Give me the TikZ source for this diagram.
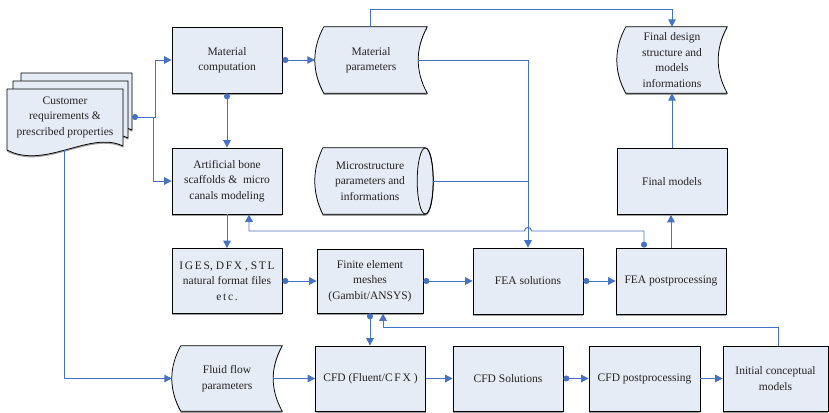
\documentclass[tikz,border=0pt]{standalone}
\usepackage{fontspec}
\setmainfont{Liberation Serif}
\newfontfamily\spaced[LetterSpace=15]{Liberation Serif}
\usetikzlibrary{arrows.meta,calc,backgrounds}
\definecolor{boxfill}{HTML}{E6ECF6}
\definecolor{linkblue}{HTML}{4472C4}
\definecolor{inkgray}{HTML}{222222}

% stored-data outline: convex left side, concave right side
\newcommand\storedbody[1]{%
  \path[shapeedge] ($(#1.north west)+(9,0)$) -- (#1.north east)
    .. controls ($(#1.north east)!0.33!(#1.south east)+(-12,0)$) and ($(#1.north east)!0.67!(#1.south east)+(-12,0)$) .. (#1.south east)
    -- ($(#1.south west)+(9,0)$)
    .. controls ($(#1.south west)!0.33!(#1.north west)+(-3,0)$) and ($(#1.south west)!0.67!(#1.north west)+(-3,0)$) .. cycle;}

% one sheet of the document stack, with its wavy lower edge
\newcommand\sheet[4]{%
  \path[shapeedge] (#1,#3) -- (#2,#3) -- (#2,#4-4)
    .. controls (#2-33,#4-20) and (#1+38,#4+20) .. (#1,#4) -- cycle;}

\begin{document}
\begin{tikzpicture}[x=1pt,y=-1pt,
  txt/.style={font=\fontsize{11.5}{15.5}\selectfont, text=inkgray, align=center},
  shade below/.style={preaction={fill=gray!75, transform canvas={yshift=-1.6pt}}},
  box/.style={txt, draw=black, line width=0.75pt, fill=boxfill, shade below,
              minimum width=110pt, minimum height=66pt, inner sep=1pt},
  slot/.style={txt, minimum width=110pt, minimum height=66pt, inner sep=1pt},
  shapeedge/.style={draw=black, line width=0.75pt, fill=boxfill, shade below},
  flow/.style={draw=linkblue, line width=0.95pt},
  arr/.style={flow, -{Triangle[length=7.5pt,width=7.5pt]}},
  darr/.style={flow, {Circle[length=6pt]}-{Triangle[length=7.5pt,width=7.5pt]}},
]
\useasboundingbox (0,0) rectangle (829,412);

% ---- blocks ----
\node[slot, minimum width=116pt, minimum height=54pt] (cust) at (65,117)
  {Customer\\requirements \&\\prescribed properties};
\node[box] (matc) at (227,60) {Material\\computation};
\node[slot, minimum width=112pt] (matp) at (371,60) {Material\\parameters};
\node[slot] (fin) at (672,60) {Final design\\structure and\\models\\informations};
\node[box] (bone) at (227,181) {Artificial bone\\scaffolds \&\ \ micro\\canals modeling};
\node[slot] (micro) at (370,181) {Microstructure\\parameters and\\informations};
\node[box] (finm) at (672,181.5) {Final models};
\node[box, minimum height=65pt] (iges) at (227,281)
  {{\spaced IGES}, {\spaced DFX} , {\spaced STL}\\natural format files\\{\spaced etc.}};
\node[box, minimum width=106pt, minimum height=64pt] (fem) at (370,281)
  {Finite element\\meshes\\(Gambit/ANSY{\spaced S})};
\node[box] (feas) at (528,281) {FEA solutions};
\node[box] (feap) at (671,281) {FEA postprocessing};
\node[slot, minimum height=65pt] (fluid) at (227,378.5) {Fluid flow\\parameters};
\node[box, minimum height=65pt] (cfd) at (370.5,378.5) {CFD (Fluent/{\spaced CFX} )};
\node[box, minimum height=65pt] (cfds) at (508,378.5) {CFD Solutions};
\node[box, minimum width=111pt, minimum height=65pt] (cfdp) at (644.5,378.5) {CFD postprocessing};
\node[box, minimum width=105pt, minimum height=65pt] (init) at (775.5,378.5) {Initial conceptual\\models};

% ---- outlines of the non-rectangular blocks ----
\begin{scope}[on background layer]
  \sheet{21}{132}{73}{134}
  \sheet{13}{128}{81}{142}
  \sheet{7}{123}{89}{150}
  \storedbody{matp}
  \storedbody{fin}
  \storedbody{fluid}
  \path[shapeedge] ($(micro.north west)+(8,0)$) -- (micro.north east)
    .. controls ($(micro.north east)+(10.7,0)$) and ($(micro.south east)+(10.7,0)$) .. (micro.south east)
    -- ($(micro.south west)+(8,0)$)
    .. controls ($(micro.south west)!0.33!(micro.north west)+(-2.7,0)$) and ($(micro.south west)!0.67!(micro.north west)+(-2.7,0)$) .. cycle;
  \draw[line width=0.75pt] (micro.east) ellipse [x radius=8pt, y radius=33pt];
\end{scope}

% ---- connector end points ----
\coordinate (custR) at (132,117);
\coordinate (custB) at (64,150);
\coordinate (hopR) at (531.5,231);
\coordinate (hopL) at (524.5,231);

% ---- connectors ----
\draw[darr] (custR) -- ++(23,0) |- (matc.west);
\draw[arr] ([xshift=21pt]custR) |- (bone.west);
\draw[arr] (custB) |- (fluid.west);
\draw[darr] (matc.east) -- (matp.west);
\draw[darr] (matc.south) -- (bone.north);
\draw[arr] ([xshift=-1pt]matp.north) -- ++(0,-17) -| (fin.north);
\draw[arr] ([xshift=-9pt]matp.east) -| (feas.north);
\draw[flow] ([xshift=8pt]micro.east) -- (micro.east -| feas.north);
\draw[darr] ([xshift=-27pt]feap.north) |- (hopR)
  .. controls +(0,-4.7) and +(0,-4.7) .. (hopL) -| ([xshift=22pt]bone.south);
\draw[arr] (feap.north) -- (feap.north |- finm.south);
\draw[arr] (finm.north) -- (fin.south);
\draw[arr] (bone.south) -- (iges.north);
\draw[darr] (iges.east) -- (fem.west);
\draw[darr] (fem.east) -- (feas.west);
\draw[darr] (feas.east) -- (feap.west);
\draw[darr] (fem.south) -- (fem.south |- cfd.north);
\draw[arr] ([xshift=2.5pt]init.north) -- ++(0,-18) -| ([xshift=13pt]fem.south);
\draw[arr] ([xshift=-9pt]fluid.east) -- (cfd.west);
\draw[arr] (cfd.east) -- (cfds.west);
\draw[darr] (cfds.east) -- (cfdp.west);
\draw[arr] (cfdp.east) -- (init.west);
\end{tikzpicture}
\end{document}
